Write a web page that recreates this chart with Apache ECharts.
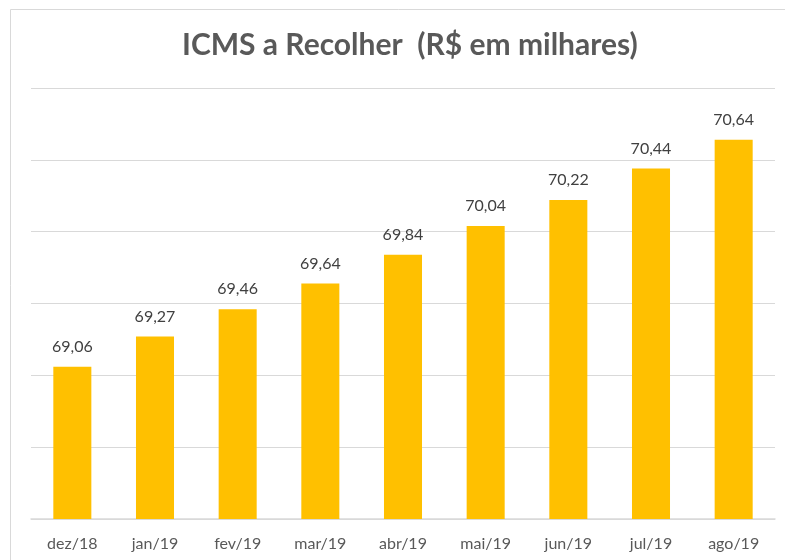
<!DOCTYPE html>
<html>
<head>
<meta charset="utf-8">
<script src="https://cdn.jsdelivr.net/npm/echarts@6/dist/echarts.min.js"></script>
<style>
  html, body { margin: 0; padding: 0; background: #fff; }
  #chart { width: 785px; height: 560px; }
</style>
</head>
<body>
<div id="chart"></div>
<script>
var meses = ['dez/18', 'jan/19', 'fev/19', 'mar/19', 'abr/19', 'mai/19', 'jun/19', 'jul/19', 'ago/19'];
var icms = [69.06, 69.27, 69.46, 69.64, 69.84, 70.04, 70.22, 70.44, 70.64];

var fonte = 'Lato, "Liberation Sans", sans-serif';
var chart = echarts.init(document.getElementById('chart'));

var option = {
  animation: false,
  title: {
    text: 'ICMS a Recolher  (R$ em milhares)',
    left: 177,
    top: 25,
    textStyle: { fontFamily: fonte, fontSize: 30, fontWeight: 'bold', color: '#595959' }
  },
  graphic: [{
    type: 'rect',
    shape: { x: 10.5, y: 9.5, width: 800, height: 600 },
    style: { fill: 'none', stroke: '#d9d9d9', lineWidth: 1 },
    silent: true
  }],
  grid: { left: 31, right: 10, top: 88, bottom: 41 },
  xAxis: {
    type: 'category',
    data: meses,
    axisTick: { show: false },
    axisLine: { lineStyle: { color: '#d9d9d9', width: 1.5 } },
    axisLabel: { fontFamily: fonte, fontSize: 16, color: '#595959', margin: 17 }
  },
  yAxis: {
    type: 'value',
    min: 68,
    max: 71,
    interval: 0.5,
    axisLabel: { show: false },
    axisLine: { show: false },
    axisTick: { show: false },
    splitLine: { lineStyle: { color: '#d9d9d9', width: 1 } }
  },
  series: [{
    type: 'bar',
    data: icms,
    barWidth: '46%',
    itemStyle: { color: '#ffc000' },
    label: {
      show: true,
      position: 'top',
      distance: 12,
      fontFamily: fonte,
      fontSize: 16,
      color: '#404040',
      formatter: function (p) { return p.value.toFixed(2).replace('.', ','); }
    }
  }]
};
chart.setOption(option);
</script>
</body>
</html>
